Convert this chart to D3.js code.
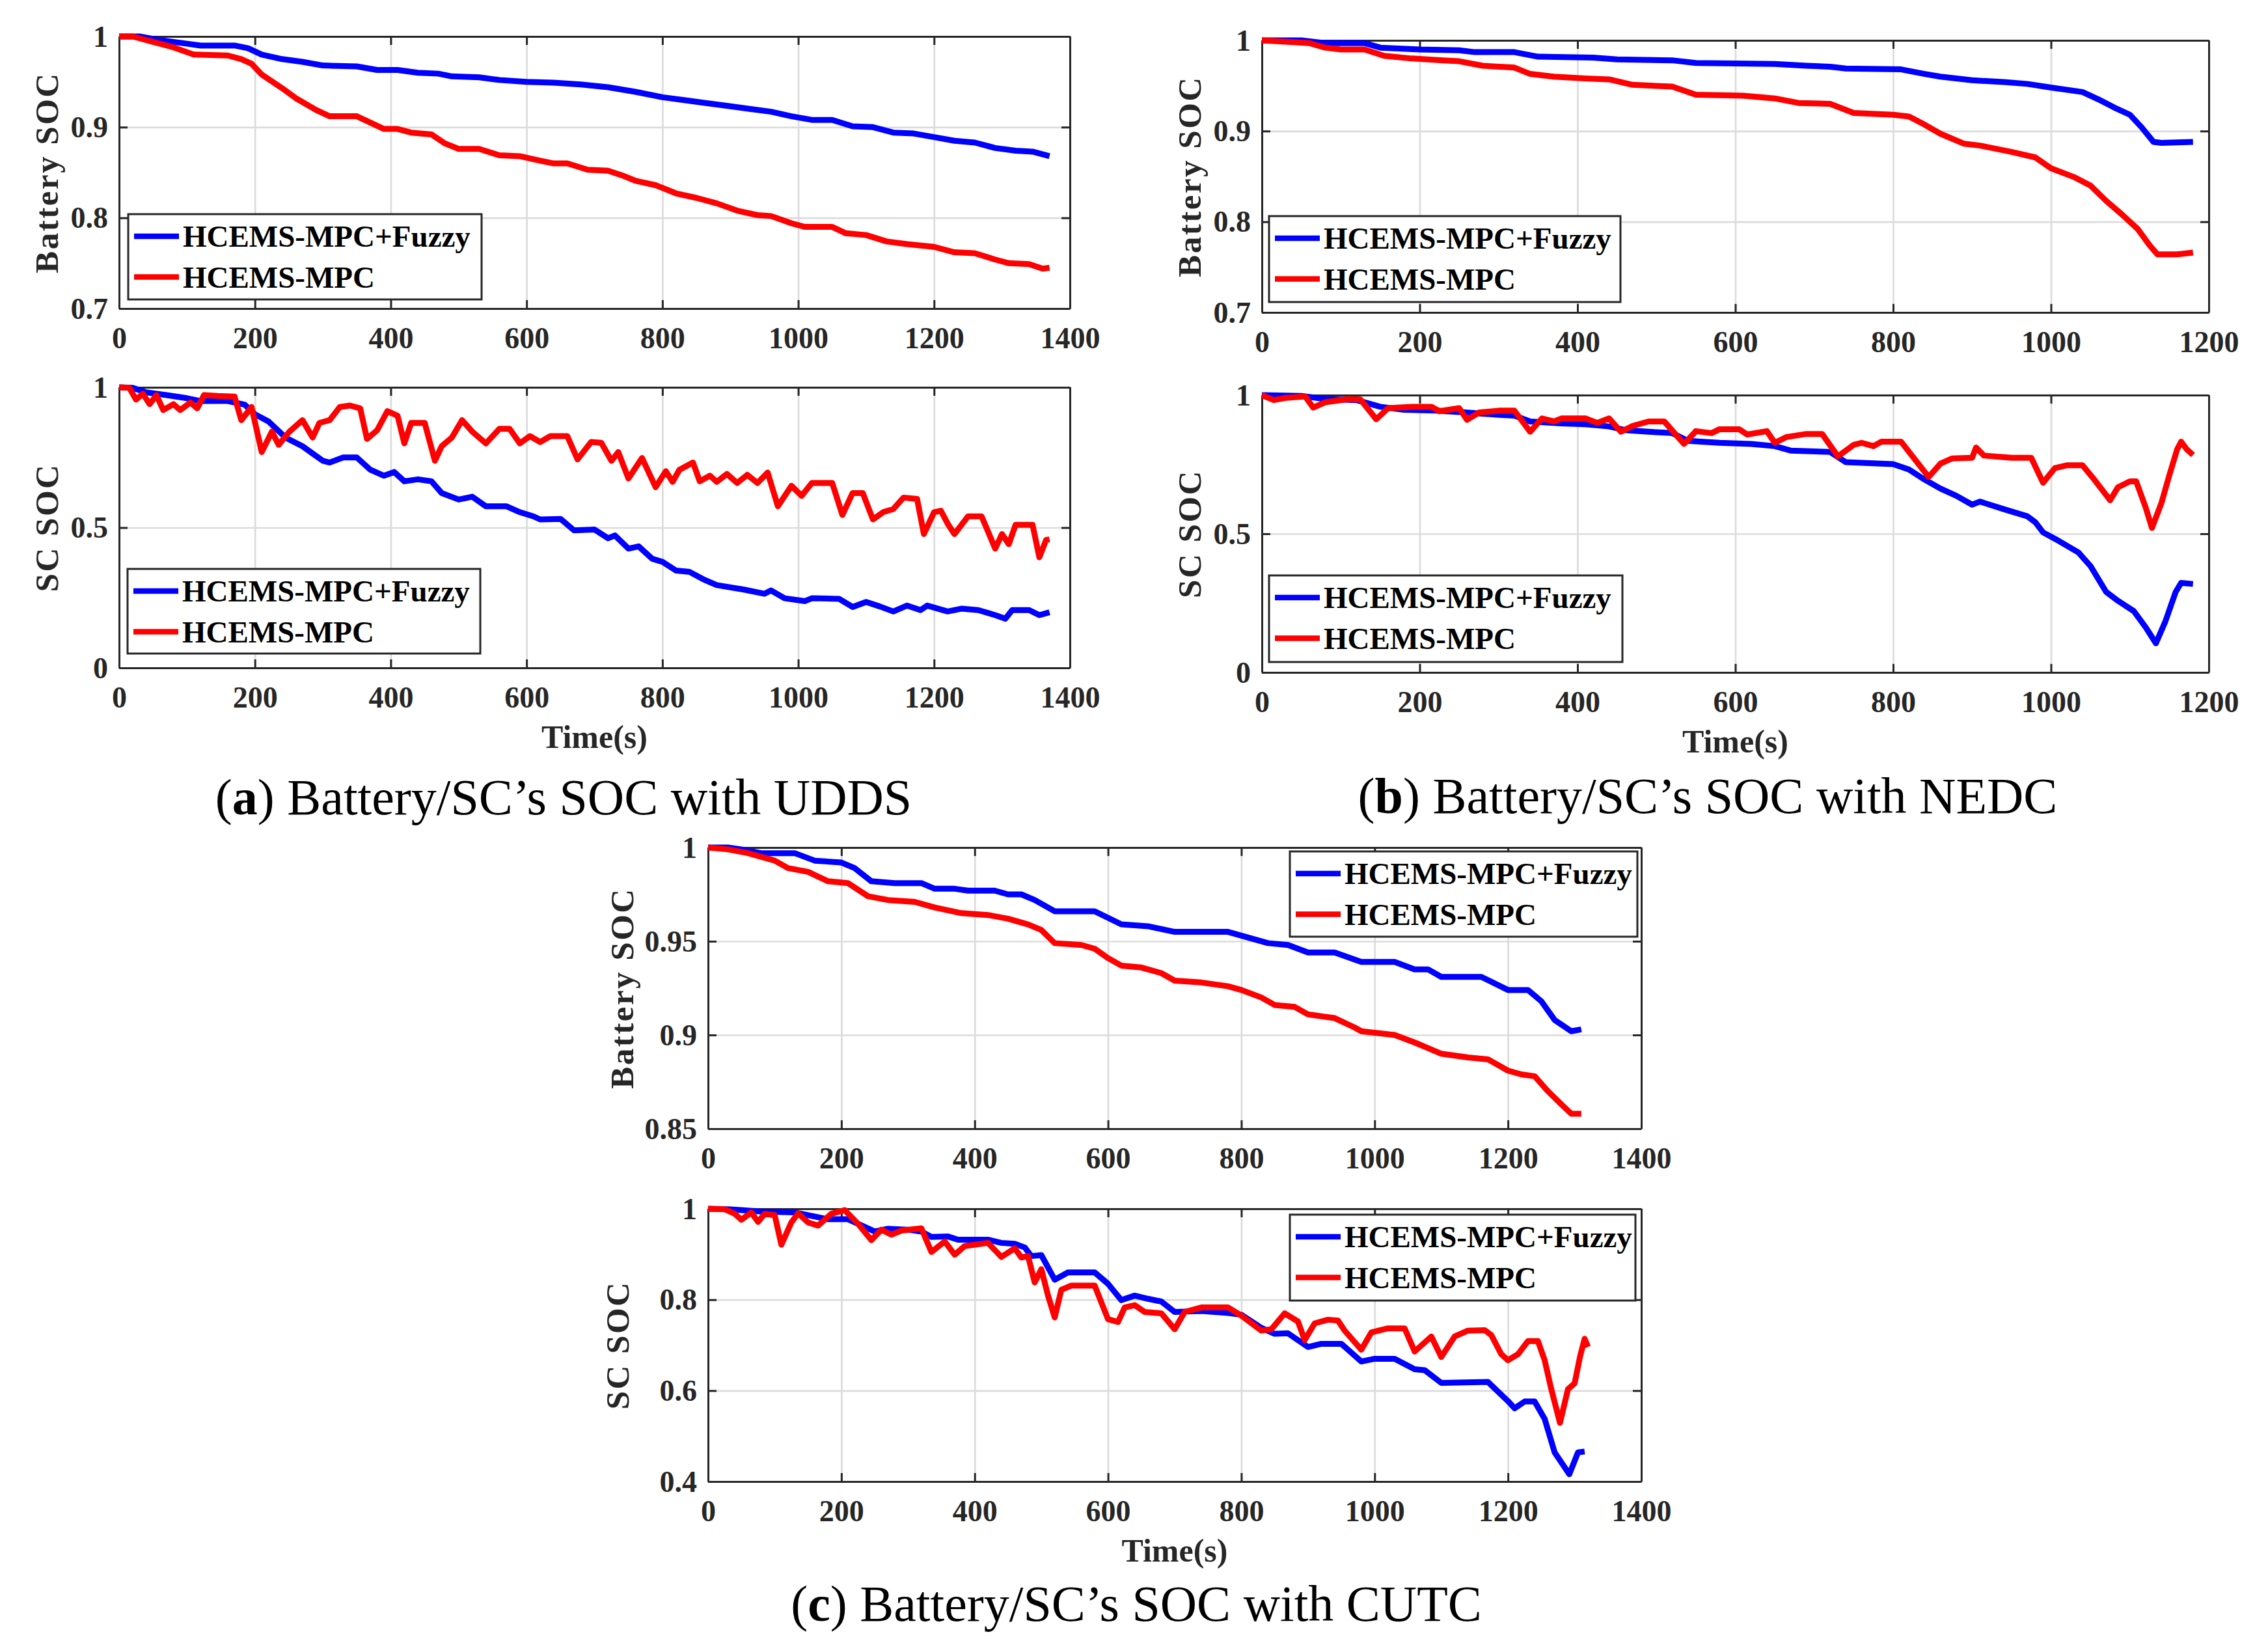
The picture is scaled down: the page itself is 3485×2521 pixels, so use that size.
<!DOCTYPE html>
<html><head><meta charset="utf-8">
<script src="https://cdn.jsdelivr.net/npm/d3@7"></script>
<style>body{margin:0;background:#fff}svg{display:block}</style>
</head><body>
<svg id="chart" width="3485" height="2521"></svg>
<script>
// ---------- DATA ----------
const seriesNames = ["HCEMS-MPC+Fuzzy", "HCEMS-MPC"];
const seriesColors = ["#0000ff", "#ff0000"];

const xTicks1400 = [0, 200, 400, 600, 800, 1000, 1200, 1400];
const xTicks1200 = [0, 200, 400, 600, 800, 1000, 1200];
const yTicksBat = [0.7, 0.8, 0.9, 1];
const yTicksSc = [0, 0.5, 1];
const yTicksBatC = [0.85, 0.9, 0.95, 1];
const yTicksScC = [0.4, 0.6, 0.8, 1];

// UDDS
const uddsBatFuzzy = [[0,1.0],[30,1.0],[60,0.996],[100,0.992],[120,0.99],[170,0.99],[190,0.987],[210,0.980],[240,0.975],[270,0.972],[300,0.968],[350,0.967],[380,0.963],[410,0.963],[440,0.960],[470,0.959],[490,0.956],[530,0.955],[560,0.952],[600,0.950],[640,0.949],[680,0.947],[720,0.944],[760,0.939],[800,0.933],[830,0.930],[860,0.927],[900,0.923],[930,0.920],[960,0.917],[990,0.912],[1020,0.908],[1050,0.908],[1080,0.901],[1110,0.900],[1140,0.894],[1170,0.893],[1200,0.889],[1230,0.885],[1260,0.883],[1290,0.877],[1320,0.874],[1345,0.873],[1370,0.868]];
const uddsBatMpc = [[0,1.0],[20,1.0],[50,0.994],[80,0.988],[110,0.980],[160,0.979],[180,0.975],[195,0.970],[210,0.958],[240,0.943],[260,0.932],[290,0.919],[310,0.912],[350,0.912],[370,0.905],[390,0.898],[410,0.898],[430,0.894],[460,0.892],[480,0.882],[500,0.876],[530,0.876],[560,0.869],[590,0.868],[620,0.863],[640,0.860],[660,0.860],[690,0.853],[720,0.852],[740,0.847],[760,0.841],[790,0.836],[820,0.827],[850,0.822],[880,0.816],[910,0.808],[940,0.803],[960,0.802],[990,0.794],[1010,0.790],[1050,0.790],[1070,0.783],[1100,0.781],[1130,0.774],[1160,0.771],[1200,0.768],[1230,0.762],[1260,0.761],[1290,0.754],[1310,0.750],[1340,0.749],[1360,0.744],[1370,0.745]];
const uddsScFuzzy = [[0,1.0],[20,0.998],[40,0.982],[70,0.972],[100,0.961],[120,0.951],[160,0.951],[185,0.938],[200,0.904],[220,0.878],[245,0.821],[270,0.790],[285,0.764],[300,0.738],[310,0.732],[330,0.750],[350,0.750],[370,0.706],[390,0.685],[405,0.698],[420,0.665],[440,0.672],[460,0.665],[475,0.623],[500,0.600],[520,0.610],[540,0.576],[570,0.576],[590,0.555],[610,0.540],[620,0.529],[650,0.531],[670,0.490],[700,0.493],[720,0.462],[730,0.472],[750,0.425],[765,0.433],[785,0.389],[800,0.378],[820,0.347],[840,0.342],[860,0.316],[880,0.295],[920,0.279],[950,0.264],[960,0.276],[980,0.248],[1010,0.238],[1020,0.248],[1060,0.246],[1080,0.217],[1100,0.235],[1120,0.219],[1140,0.201],[1160,0.222],[1180,0.206],[1190,0.222],[1220,0.201],[1240,0.211],[1265,0.206],[1290,0.188],[1305,0.175],[1315,0.206],[1340,0.206],[1355,0.188],[1370,0.198]];
const uddsScMpc = [[0,1.0],[15,0.998],[25,0.956],[35,0.977],[45,0.940],[55,0.972],[65,0.919],[80,0.940],[90,0.919],[105,0.946],[115,0.925],[125,0.972],[145,0.969],[170,0.967],[180,0.883],[195,0.930],[210,0.769],[225,0.842],[235,0.795],[250,0.840],[270,0.883],[285,0.821],[295,0.873],[310,0.883],[325,0.930],[340,0.935],[355,0.925],[365,0.816],[380,0.847],[395,0.915],[410,0.899],[420,0.800],[430,0.873],[450,0.873],[465,0.738],[475,0.790],[490,0.821],[505,0.883],[520,0.842],[540,0.800],[560,0.852],[575,0.852],[590,0.800],[605,0.826],[620,0.805],[635,0.826],[660,0.826],[675,0.743],[695,0.805],[710,0.802],[725,0.738],[735,0.769],[750,0.675],[770,0.748],[790,0.644],[805,0.701],[815,0.663],[825,0.706],[845,0.732],[855,0.665],[870,0.685],[880,0.663],[895,0.691],[910,0.659],[925,0.688],[940,0.659],[955,0.696],[970,0.576],[990,0.649],[1005,0.613],[1020,0.659],[1050,0.659],[1065,0.545],[1080,0.623],[1095,0.623],[1110,0.529],[1125,0.555],[1140,0.566],[1155,0.607],[1175,0.602],[1185,0.477],[1200,0.555],[1210,0.560],[1220,0.514],[1230,0.477],[1250,0.540],[1270,0.540],[1290,0.425],[1300,0.477],[1310,0.441],[1320,0.510],[1345,0.510],[1355,0.394],[1365,0.456],[1370,0.458]];

// NEDC
const nedcBatFuzzy = [[0,1.0],[50,1.0],[80,0.997],[130,0.997],[150,0.992],[200,0.990],[250,0.989],[270,0.987],[320,0.987],[350,0.982],[420,0.981],[450,0.979],[520,0.978],[550,0.975],[650,0.974],[690,0.972],[720,0.971],[740,0.969],[810,0.968],[840,0.963],[860,0.960],[900,0.956],[940,0.954],[970,0.952],[1000,0.948],[1040,0.943],[1060,0.935],[1080,0.926],[1100,0.918],[1115,0.904],[1130,0.888],[1140,0.887],[1180,0.888]];
const nedcBatMpc = [[0,1.0],[40,0.998],[60,0.997],[80,0.992],[100,0.990],[130,0.990],[155,0.983],[190,0.980],[230,0.978],[250,0.977],[280,0.972],[320,0.970],[340,0.963],[370,0.960],[410,0.958],[440,0.957],[470,0.951],[520,0.949],[550,0.940],[610,0.939],[650,0.936],[680,0.931],[720,0.930],[750,0.920],[800,0.918],[820,0.916],[840,0.907],[860,0.897],[890,0.886],[910,0.884],[950,0.877],[980,0.871],[1000,0.859],[1030,0.849],[1050,0.840],[1070,0.823],[1090,0.808],[1110,0.792],[1125,0.774],[1135,0.764],[1160,0.764],[1180,0.766]];
const nedcScFuzzy = [[0,1.0],[50,0.997],[80,0.986],[120,0.982],[150,0.958],[180,0.947],[220,0.944],[260,0.937],[300,0.929],[320,0.926],[340,0.905],[380,0.898],[410,0.895],[440,0.887],[460,0.874],[490,0.868],[520,0.863],[540,0.835],[580,0.828],[620,0.824],[650,0.816],[670,0.800],[720,0.795],[740,0.758],[800,0.751],[820,0.732],[840,0.695],[860,0.663],[880,0.637],[900,0.605],[910,0.616],[940,0.589],[970,0.563],[980,0.542],[990,0.505],[1010,0.474],[1035,0.432],[1050,0.384],[1070,0.290],[1085,0.258],[1105,0.221],[1120,0.163],[1133,0.105],[1145,0.184],[1158,0.290],[1165,0.323],[1180,0.319]];
const nedcScMpc = [[0,1.0],[15,0.982],[30,0.990],[55,0.995],[65,0.955],[80,0.974],[110,0.986],[125,0.984],[145,0.913],[160,0.953],[190,0.958],[215,0.958],[225,0.942],[250,0.953],[260,0.911],[275,0.937],[300,0.944],[320,0.944],[340,0.868],[355,0.916],[370,0.905],[380,0.916],[410,0.916],[425,0.900],[440,0.916],[455,0.868],[470,0.889],[490,0.905],[510,0.905],[535,0.824],[550,0.870],[570,0.863],[580,0.877],[605,0.877],[615,0.858],[640,0.870],[650,0.828],[665,0.849],[690,0.860],[710,0.860],[730,0.779],[750,0.821],[760,0.828],[775,0.816],[785,0.832],[810,0.832],[845,0.705],[860,0.753],[875,0.772],[900,0.774],[905,0.811],[915,0.782],[950,0.774],[975,0.774],[990,0.684],[1005,0.737],[1020,0.747],[1040,0.747],[1055,0.695],[1075,0.621],[1085,0.668],[1100,0.689],[1108,0.689],[1120,0.595],[1128,0.521],[1140,0.611],[1150,0.711],[1160,0.805],[1165,0.832],[1172,0.805],[1180,0.784]];

// CUTC
const cutcBatFuzzy = [[0,1.0],[30,1.0],[50,0.999],[80,0.997],[130,0.997],[160,0.993],[200,0.992],[220,0.989],[245,0.982],[280,0.981],[320,0.981],[340,0.978],[370,0.978],[390,0.977],[430,0.977],[450,0.975],[470,0.975],[490,0.972],[520,0.966],[560,0.966],[580,0.966],[620,0.959],[660,0.958],[700,0.955],[780,0.955],[800,0.953],[840,0.949],[870,0.948],[900,0.944],[940,0.944],[980,0.939],[1030,0.939],[1060,0.935],[1080,0.935],[1100,0.931],[1160,0.931],[1200,0.924],[1230,0.924],[1250,0.918],[1270,0.908],[1295,0.902],[1310,0.903]];
const cutcBatMpc = [[0,1.0],[30,0.999],[60,0.997],[100,0.993],[120,0.989],[150,0.987],[180,0.982],[210,0.981],[240,0.974],[270,0.972],[310,0.971],[340,0.968],[380,0.965],[420,0.964],[450,0.962],[480,0.959],[500,0.956],[520,0.949],[560,0.948],[580,0.946],[600,0.941],[620,0.937],[650,0.936],[680,0.933],[700,0.929],[740,0.928],[780,0.926],[800,0.924],[830,0.920],[850,0.916],[880,0.915],[900,0.911],[940,0.909],[970,0.904],[980,0.902],[1030,0.900],[1060,0.896],[1080,0.893],[1100,0.890],[1140,0.888],[1170,0.887],[1200,0.881],[1220,0.879],[1240,0.878],[1260,0.870],[1280,0.863],[1295,0.858],[1310,0.858]];
const cutcScFuzzy = [[0,1.0],[30,0.999],[50,0.997],[80,0.994],[130,0.992],[160,0.983],[180,0.977],[210,0.977],[225,0.967],[250,0.950],[270,0.956],[300,0.954],[320,0.950],[335,0.938],[360,0.939],[375,0.932],[420,0.932],[440,0.925],[460,0.923],[475,0.915],[485,0.896],[500,0.898],[520,0.844],[540,0.860],[580,0.860],[600,0.835],[620,0.799],[640,0.809],[660,0.802],[680,0.796],[700,0.773],[740,0.775],[780,0.771],[800,0.767],[830,0.738],[850,0.725],[870,0.726],[900,0.696],[920,0.703],[950,0.703],[980,0.664],[1000,0.670],[1030,0.670],[1060,0.647],[1075,0.645],[1100,0.617],[1170,0.619],[1200,0.577],[1210,0.561],[1225,0.576],[1240,0.576],[1255,0.538],[1270,0.464],[1292,0.416],[1305,0.464],[1315,0.466]];
const cutcScMpc = [[0,1.0],[25,0.999],[40,0.989],[50,0.976],[65,0.992],[75,0.971],[85,0.989],[100,0.986],[110,0.921],[125,0.970],[135,0.990],[150,0.970],[165,0.963],[185,0.989],[205,0.997],[225,0.967],[245,0.931],[260,0.954],[275,0.943],[290,0.952],[320,0.957],[335,0.905],[355,0.928],[370,0.899],[385,0.918],[420,0.925],[440,0.894],[460,0.913],[470,0.893],[480,0.896],[490,0.838],[500,0.867],[510,0.809],[520,0.761],[530,0.822],[545,0.831],[580,0.831],[600,0.757],[615,0.751],[625,0.783],[640,0.788],[655,0.773],[680,0.770],[700,0.735],[715,0.773],[740,0.783],[780,0.783],[800,0.765],[830,0.732],[845,0.735],[865,0.770],[885,0.752],[895,0.711],[910,0.748],[930,0.756],[945,0.754],[955,0.732],[980,0.690],[995,0.728],[1020,0.737],[1045,0.737],[1060,0.686],[1085,0.719],[1100,0.674],[1120,0.719],[1140,0.732],[1165,0.733],[1175,0.722],[1190,0.680],[1200,0.667],[1215,0.680],[1230,0.709],[1245,0.709],[1255,0.667],[1265,0.603],[1278,0.529],[1290,0.603],[1300,0.616],[1308,0.674],[1315,0.714],[1320,0.696]];

const captions = [
  { letter: "a", text: " Battery/SC\u2019s SOC with UDDS" },
  { letter: "b", text: " Battery/SC\u2019s SOC with NEDC" },
  { letter: "c", text: " Battery/SC\u2019s SOC with CUTC" }
];

// ---------- LAYOUT ----------
const panels = [
  { data: [uddsBatFuzzy, uddsBatMpc], x0: 183, x1: 1644, y0: 56, y1: 474, xd: [0, 1400], xt: xTicks1400, yd: [0.7, 1], yt: yTicksBat, ylab: "Battery SOC", ylx: 89, leg: [197, 329, 543, 131], xlab: false },
  { data: [uddsScFuzzy, uddsScMpc], x0: 183, x1: 1644, y0: 595, y1: 1026, xd: [0, 1400], xt: xTicks1400, yd: [0, 1], yt: yTicksSc, ylab: "SC SOC", ylx: 89, leg: [196, 874, 542, 130], xlab: true },
  { data: [nedcBatFuzzy, nedcBatMpc], x0: 1939, x1: 3394, y0: 62, y1: 480, xd: [0, 1200], xt: xTicks1200, yd: [0.7, 1], yt: yTicksBat, ylab: "Battery SOC", ylx: 1845, leg: [1950, 332, 540, 132], xlab: false },
  { data: [nedcScFuzzy, nedcScMpc], x0: 1939, x1: 3394, y0: 607, y1: 1033, xd: [0, 1200], xt: xTicks1200, yd: [0, 1], yt: yTicksSc, ylab: "SC SOC", ylx: 1845, leg: [1950, 884, 543, 133], xlab: true },
  { data: [cutcBatFuzzy, cutcBatMpc], x0: 1088, x1: 2522, y0: 1302, y1: 1734, xd: [0, 1400], xt: xTicks1400, yd: [0.85, 1], yt: yTicksBatC, ylab: "Battery SOC", ylx: 973, leg: [1982, 1308, 534, 131], xlab: false },
  { data: [cutcScFuzzy, cutcScMpc], x0: 1088, x1: 2522, y0: 1857, y1: 2276, xd: [0, 1400], xt: xTicks1400, yd: [0.4, 1], yt: yTicksScC, ylab: "SC SOC", ylx: 966, leg: [1982, 1866, 531, 132], xlab: true }
];
const captionPos = [[866, 1251], [2624, 1249], [1746, 2490]];

const FONT = "'Liberation Serif', 'Times New Roman', serif";
const AX = "#262626";
const svg = d3.select("#chart");
svg.append("rect").attr("width", 3485).attr("height", 2521).attr("fill", "#fff");

const fmt = d => String(+(+d).toFixed(2));

panels.forEach(p => {
  const xs = d3.scaleLinear().domain(p.xd).range([p.x0, p.x1]);
  const ys = d3.scaleLinear().domain(p.yd).range([p.y1, p.y0]);
  const w = p.x1 - p.x0, h = p.y1 - p.y0;
  const g = svg.append("g");

  // grid
  const gx = g.append("g").attr("transform", `translate(0,${p.y1})`)
    .call(d3.axisBottom(xs).tickValues(p.xt.filter(v => v > p.xd[0] && v < p.xd[1])).tickSize(-h).tickFormat(""));
  gx.select(".domain").remove();
  gx.selectAll("line").attr("stroke", "#dcdcdc").attr("stroke-width", 2.7);
  const gy = g.append("g").attr("transform", `translate(${p.x0},0)`)
    .call(d3.axisLeft(ys).tickValues(p.yt.filter(v => v > p.yd[0] && v < p.yd[1])).tickSize(-w).tickFormat(""));
  gy.select(".domain").remove();
  gy.selectAll("line").attr("stroke", "#dcdcdc").attr("stroke-width", 2.7);

  // axes with inward ticks
  const bottom = g.append("g").attr("transform", `translate(0,${p.y1})`)
    .call(d3.axisBottom(xs).tickValues(p.xt).tickSizeInner(-13).tickSizeOuter(0).tickFormat(fmt));
  const top = g.append("g").attr("transform", `translate(0,${p.y0})`)
    .call(d3.axisTop(xs).tickValues(p.xt).tickSizeInner(-13).tickSizeOuter(0).tickFormat(""));
  const left = g.append("g").attr("transform", `translate(${p.x0},0)`)
    .call(d3.axisLeft(ys).tickValues(p.yt).tickSizeInner(-13).tickSizeOuter(0).tickPadding(17).tickFormat(fmt));
  const right = g.append("g").attr("transform", `translate(${p.x1},0)`)
    .call(d3.axisRight(ys).tickValues(p.yt).tickSizeInner(-13).tickSizeOuter(0).tickFormat(""));
  [bottom, top, left, right].forEach(a => {
    a.select(".domain").attr("stroke", AX).attr("stroke-width", 3);
    a.selectAll(".tick line").attr("stroke", AX).attr("stroke-width", 3);
    a.selectAll("text").attr("fill", AX).attr("font-family", FONT)
      .attr("font-weight", "bold").attr("font-size", 46);
  });
  bottom.selectAll("text").attr("y", 61).attr("dy", null);
  left.selectAll("text").attr("x", -17).attr("dy", "0.33em");

  // y label
  g.append("text").attr("transform", `translate(${p.ylx},${(p.y0 + p.y1) / 2}) rotate(-90)`)
    .attr("text-anchor", "middle").attr("font-family", FONT).attr("font-weight", "bold")
    .attr("font-size", 51).attr("letter-spacing", 2.5).attr("fill", AX).text(p.ylab);

  if (p.xlab) {
    g.append("text").attr("x", (p.x0 + p.x1) / 2).attr("y", p.y1 + 123)
      .attr("text-anchor", "middle").attr("font-family", FONT).attr("font-weight", "bold")
      .attr("font-size", 50).attr("fill", AX).text("Time(s)");
  }

  // data lines
  const line = d3.line().x(d => xs(d[0])).y(d => ys(d[1]));
  p.data.forEach((s, i) => {
    g.append("path").datum(s).attr("d", line).attr("fill", "none")
      .attr("stroke", seriesColors[i]).attr("stroke-width", 9)
      .attr("stroke-linejoin", "round").attr("stroke-linecap", "butt");
  });

  // legend
  const [lx, ly, lw, lh] = p.leg;
  const lg = g.append("g");
  lg.append("rect").attr("x", lx).attr("y", ly).attr("width", lw).attr("height", lh)
    .attr("fill", "#fff").attr("stroke", AX).attr("stroke-width", 3);
  seriesNames.forEach((n, i) => {
    const yy = ly + 34 + i * 62.5;
    lg.append("line").attr("x1", lx + 9).attr("x2", lx + 78).attr("y1", yy).attr("y2", yy)
      .attr("stroke", seriesColors[i]).attr("stroke-width", 8.5);
    lg.append("text").attr("x", lx + 84).attr("y", yy + 16).attr("font-family", FONT)
      .attr("font-weight", "bold").attr("font-size", 47).attr("fill", "#000").text(n);
  });
});

// captions
captions.forEach((c, i) => {
  const t = svg.append("text").attr("x", captionPos[i][0]).attr("y", captionPos[i][1])
    .attr("text-anchor", "middle").attr("font-family", FONT).attr("font-size", 78).attr("fill", "#000");
  t.append("tspan").text("(");
  t.append("tspan").attr("font-weight", "bold").text(c.letter);
  t.append("tspan").text(")" + c.text);
});
</script>
</body></html>
